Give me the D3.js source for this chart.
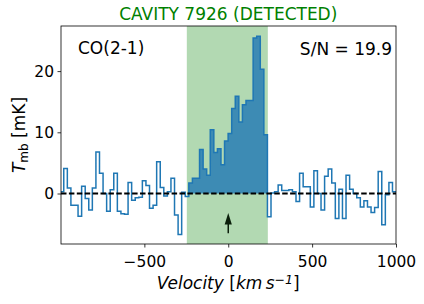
<!DOCTYPE html>
<html>
<head>
<meta charset="utf-8">
<script src="https://cdn.jsdelivr.net/npm/d3@7"></script>
<style>
  body { margin: 0; background: #fff; }
  svg { display: block; font-family: "DejaVu Sans", sans-serif; }
</style>
</head>
<body>
<svg id="chart" width="424" height="304"></svg>
<script>
// channel centres [km/s] and brightness temperature [mK]
const velocity = [
  -991.2, -969.9, -948.6, -927.3, -906.0, -884.7, -863.4, -842.1, -820.8, -799.5,
  -778.2, -756.9, -735.6, -714.3, -693.0, -671.7, -650.4, -629.1, -607.8, -586.5,
  -565.2, -543.9, -522.6, -501.3, -480.0, -458.7, -437.4, -416.1, -394.8, -373.5,
  -352.2, -330.9, -309.6, -288.3, -267.0, -245.7, -224.4, -203.1, -181.8, -160.5,
  -139.2, -117.9, -96.6, -75.3, -54.0, -32.7, -11.4, 9.9, 31.2, 52.5,
  73.8, 95.1, 116.4, 137.7, 159.0, 180.3, 201.6, 222.9, 244.2, 265.5,
  286.8, 308.1, 329.4, 350.7, 372.0, 393.3, 414.6, 435.9, 457.2, 478.5,
  499.8, 521.1, 542.4, 563.7, 585.0, 606.3, 627.6, 648.9, 670.2, 691.5,
  712.8, 734.1, 755.4, 776.7, 798.0, 819.3, 840.6, 861.9, 883.2, 904.5,
  925.8, 947.1, 968.4, 989.7, 1011.0
];
const tmb = [
  0.3, 4.1, 0.9, -1.9, -1.9, -3.7, 1.2, -0.8, -2.7, 0.9,
  6.8, 3.3, 0.0, -2.9, 0.6, 3.3, -2.9, -3.3, -3.4, 1.8,
  -1.1, -0.7, -0.6, 2.1, 1.3, -2.4, -1.9, 5.2, 1.0, -0.4,
  0.3, 2.5, -3.5, -6.7, 0.2, -0.5, 1.7, 2.5, 2.5, 7.2,
  4.0, 3.0, 10.4, 6.7, 7.3, 4.7, 8.6, 9.8, 13.9, 15.9,
  11.7, 14.5, 15.2, 15.2, 25.4, 25.7, 20.3, 9.6, -3.8, 0.1,
  0.3, 1.4, 0.5, 0.5, 0.6, 0.3, -1.3, 3.3, 1.1, 1.1,
  -2.2, 3.7, 0.0, -2.7, 2.8, 4.0, 1.7, -4.1, 0.7, -4.1,
  3.0, 0.7, 0.0, -0.7, -2.2, -1.2, -2.2, -3.1, -2.3, 3.6,
  -5.1, -0.2, 1.8, 0.3, 0.3
];
const xTicks = [-500, 0, 500, 1000];
const yTicks = [0, 10, 20];
const lineWindow = [-247, 236];      // green band
const signalRange = [-235, 234];     // filled channels
const arrowY = [-6.5, -3.2];         // arrow at v = 0
const titleText = "CAVITY 7926 (DETECTED)";
const lineLabel = "CO(2-1)";
const snrLabel = "S/N = 19.9";

const svg = d3.select('#chart');
const margin = {top: 26, right: 28, bottom: 60, left: 61};
const width = +svg.attr('width');
const height = +svg.attr('height');

const x = d3.scaleLinear().domain([-997, 1000]).range([margin.left, width - margin.right]);
const y = d3.scaleLinear().domain([-8.25, 27.37]).range([height - margin.bottom, margin.top]);

svg.append('clipPath').attr('id', 'plotClip')
  .append('rect')
  .attr('x', x.range()[0]).attr('y', y.range()[1])
  .attr('width', x.range()[1] - x.range()[0])
  .attr('height', y.range()[0] - y.range()[1]);

// step points: left edge of every channel + right edge of the last one
const stepPoints = (idx) => {
  const pts = idx.map(i => {
    const left = i === 0 ? velocity[0] - (velocity[1] - velocity[0]) / 2 : (velocity[i - 1] + velocity[i]) / 2;
    return [left, tmb[i]];
  });
  const last = idx[idx.length - 1];
  const right = last === velocity.length - 1
    ? velocity[last] + (velocity[last] - velocity[last - 1]) / 2
    : (velocity[last] + velocity[last + 1]) / 2;
  pts.push([right, tmb[last]]);
  return pts;
};

const allIdx = d3.range(velocity.length);
const sigIdx = allIdx.filter(i => velocity[i] > signalRange[0] && velocity[i] < signalRange[1]);

const plot = svg.append('g').attr('clip-path', 'url(#plotClip)');

plot.append('rect')
  .attr('x', x(lineWindow[0])).attr('y', y.range()[1])
  .attr('width', x(lineWindow[1]) - x(lineWindow[0]))
  .attr('height', y.range()[0] - y.range()[1])
  .attr('fill', 'green').attr('fill-opacity', 0.3);

const area = d3.area().x(d => x(d[0])).y0(y(0)).y1(d => y(d[1])).curve(d3.curveStepAfter);
plot.append('path').datum(stepPoints(sigIdx))
  .attr('d', area).attr('fill', '#1f77b4').attr('fill-opacity', 0.8);

const line = d3.line().x(d => x(d[0])).y(d => y(d[1])).curve(d3.curveStepAfter);
plot.append('path').datum(stepPoints(allIdx))
  .attr('d', line).attr('fill', 'none').attr('stroke', '#1f77b4').attr('stroke-width', 1.5);

plot.append('line')
  .attr('x1', x.range()[0]).attr('x2', x.range()[1])
  .attr('y1', y(0)).attr('y2', y(0))
  .attr('stroke', '#000').attr('stroke-width', 1.8).attr('stroke-dasharray', '5.5,2.4');

// arrow marking v = 0
const ax = x(0), yTail = y(arrowY[0]), yTip = y(arrowY[1]);
plot.append('line').attr('x1', ax).attr('x2', ax).attr('y1', yTail).attr('y2', yTip + 8)
  .attr('stroke', '#0b1f0b').attr('stroke-width', 1.5);
plot.append('path')
  .attr('d', `M${ax},${yTip} L${ax - 3.6},${yTip + 11.5} L${ax + 3.6},${yTip + 11.5} Z`)
  .attr('fill', '#0b1f0b');

// axes
const xAxis = svg.append('g').attr('transform', `translate(0,${y.range()[0]})`)
  .call(d3.axisBottom(x).tickValues(xTicks).tickSize(3.5).tickPadding(3.5).tickFormat(d => d < 0 ? '\u2212' + Math.abs(d) : d));
const yAxis = svg.append('g').attr('transform', `translate(${x.range()[0]},0)`)
  .call(d3.axisLeft(y).tickValues(yTicks).tickSize(3.5).tickPadding(3.5));
[xAxis, yAxis].forEach(g => {
  g.select('.domain').remove();
  g.selectAll('.tick line').attr('stroke', '#000').attr('stroke-width', 0.8);
  g.selectAll('.tick text').attr('fill', '#000').style('font-size', '15.5px').style('font-family', '"DejaVu Sans"');
});
xAxis.selectAll('.tick text').attr('dy', null).attr('y', 0).attr('dominant-baseline', 'auto')
  .attr('transform', 'translate(0,22.7)');

svg.append('rect')
  .attr('x', x.range()[0]).attr('y', y.range()[1])
  .attr('width', x.range()[1] - x.range()[0])
  .attr('height', y.range()[0] - y.range()[1])
  .attr('fill', 'none').attr('stroke', '#000').attr('stroke-width', 0.8);

// texts
svg.append('text').attr('x', x(0)).attr('y', 20).attr('text-anchor', 'middle')
  .attr('fill', 'green').style('font-size', '17px').text(titleText);
svg.append('text').attr('x', 78).attr('y', 53.5)
  .style('font-size', '17px').text(lineLabel);
svg.append('text').attr('x', 392).attr('y', 55).attr('text-anchor', 'end')
  .style('font-size', '17px').text(snrLabel);

const xl = svg.append('text').attr('x', x(0)).attr('y', 289).attr('text-anchor', 'middle')
  .style('font-size', '17px');
xl.append('tspan').attr('font-style', 'italic').text('Velocity ');
xl.append('tspan').text('[');
xl.append('tspan').attr('font-style', 'italic').text('km\u2009s');
xl.append('tspan').attr('font-style', 'italic').attr('baseline-shift', '40%').style('font-size', '12.5px').text('\u22121');
xl.append('tspan').text(']');

const yl = svg.append('text')
  .attr('transform', `translate(25,${(y.range()[0] + y.range()[1]) / 2}) rotate(-90)`)
  .attr('text-anchor', 'middle').style('font-size', '17px');
yl.append('tspan').attr('font-style', 'italic').text('T');
yl.append('tspan').attr('baseline-shift', '-25%').style('font-size', '12px').text('mb');
yl.append('tspan').text(' [mK]');
</script>
</body>
</html>
